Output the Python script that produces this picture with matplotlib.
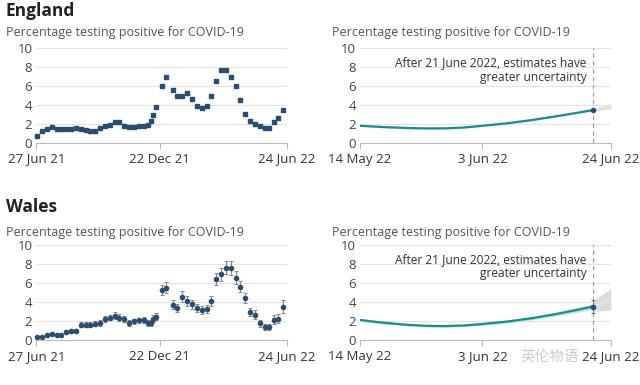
import numpy as np
import pandas as pd
import matplotlib
matplotlib.use('Agg')
import matplotlib.pyplot as plt
import matplotlib.dates as mdates

plt.rcParams['font.family'] = ['Open Sans', 'DejaVu Sans']

##################################################
# data
##################################################

week_dates = ['2021-06-28', '2021-07-05', '2021-07-12', '2021-07-19', '2021-07-26',
              '2021-08-02', '2021-08-09', '2021-08-16', '2021-08-23', '2021-08-30',
              '2021-09-06', '2021-09-13', '2021-09-20', '2021-09-27', '2021-10-04',
              '2021-10-11', '2021-10-18', '2021-10-25', '2021-11-01', '2021-11-08',
              '2021-11-15', '2021-11-22', '2021-11-29', '2021-12-06', '2021-12-10',
              '2021-12-13', '2021-12-17', '2021-12-25', '2022-01-01', '2022-01-10',
              '2022-01-17', '2022-01-24', '2022-01-31', '2022-02-07', '2022-02-14',
              '2022-02-21', '2022-02-28', '2022-03-07', '2022-03-14', '2022-03-21',
              '2022-03-28', '2022-04-04', '2022-04-11', '2022-04-18', '2022-04-25',
              '2022-05-02', '2022-05-09', '2022-05-16', '2022-05-24', '2022-05-29',
              '2022-06-06', '2022-06-12', '2022-06-19']

england_weekly = [0.75, 1.2, 1.5, 1.7, 1.45, 1.45, 1.45, 1.5, 1.55, 1.5,
                  1.4, 1.3, 1.3, 1.55, 1.8, 1.9, 2.15, 2.15, 1.8, 1.65,
                  1.7, 1.8, 1.8, 1.85, 2.3, 2.9, 3.8, 6.05, 6.9, 5.6,
                  4.9, 4.9, 5.3, 4.6, 3.9, 3.65, 3.85, 4.95, 6.5, 7.65,
                  7.65, 7.0, 6.0, 4.5, 3.0, 2.35, 2.0, 1.75, 1.55, 1.55,
                  2.15, 2.65, 3.45]

wales_weekly = [0.35, 0.3, 0.5, 0.65, 0.5, 0.5, 0.85, 0.9, 0.95, 1.6,
                1.6, 1.6, 1.7, 1.8, 2.2, 2.35, 2.55, 2.35, 2.2, 1.8,
                1.95, 2.05, 2.1, 1.8, 1.8, 2.25, 2.45, 5.25, 5.5, 3.7,
                3.35, 4.55, 4.1, 3.75, 3.35, 3.15, 3.25, 4.1, 6.4, 6.9,
                7.6, 7.6, 6.55, 5.6, 4.4, 2.95, 2.65, 1.75, 1.35, 1.35,
                2.15, 2.25, 3.5]

wales_err = [0.1, 0.1, 0.12, 0.12, 0.12, 0.12, 0.15, 0.15, 0.15, 0.25,
             0.25, 0.25, 0.25, 0.3, 0.3, 0.3, 0.35, 0.35, 0.35, 0.3,
             0.3, 0.3, 0.3, 0.3, 0.3, 0.35, 0.35, 0.55, 0.6, 0.45,
             0.45, 0.55, 0.5, 0.45, 0.45, 0.45, 0.45, 0.5, 0.65, 0.65,
             0.7, 0.75, 0.7, 0.6, 0.55, 0.45, 0.45, 0.35, 0.3, 0.3,
             0.45, 0.5, 0.7]

model_dates = ['2022-05-14', '2022-05-18', '2022-05-22', '2022-05-25', '2022-05-28',
               '2022-05-31', '2022-06-03', '2022-06-07', '2022-06-11', '2022-06-15',
               '2022-06-18', '2022-06-21']
england_model = [1.8, 1.66, 1.56, 1.52, 1.53, 1.62, 1.8, 2.06, 2.4, 2.8, 3.12, 3.45]
england_lo = [1.73, 1.6, 1.5, 1.46, 1.47, 1.56, 1.74, 1.99, 2.33, 2.72, 3.02, 3.33]
england_hi = [1.87, 1.72, 1.62, 1.58, 1.59, 1.68, 1.86, 2.13, 2.47, 2.88, 3.22, 3.57]

wales_model = [2.1, 1.8, 1.58, 1.48, 1.46, 1.52, 1.68, 1.93, 2.28, 2.72, 3.1, 3.5]
wales_lo = [1.95, 1.67, 1.46, 1.36, 1.34, 1.4, 1.55, 1.78, 2.11, 2.52, 2.86, 3.22]
wales_hi = [2.25, 1.93, 1.7, 1.6, 1.58, 1.64, 1.81, 2.08, 2.45, 2.92, 3.34, 3.78]

ext_dates = ['2022-06-21', '2022-06-24']
england_ext = [3.45, 3.9]
england_ext_lo = [3.3, 3.65]
england_ext_hi = [3.6, 4.15]
wales_ext = [3.5, 4.2]
wales_ext_lo = [3.0, 3.15]
wales_ext_hi = [4.1, 5.4]

wales_last_err = 0.7

week_dates = pd.to_datetime(week_dates)
model_dates = pd.to_datetime(model_dates)
ext_dates = pd.to_datetime(ext_dates)

left_ticks = pd.to_datetime(['2021-06-27', '2021-12-22', '2022-06-24'])
right_ticks = pd.to_datetime(['2022-05-14', '2022-06-03', '2022-06-24'])
left_labels = ['27 Jun 21', '22 Dec 21', '24 Jun 22']
right_labels = ['14 May 22', '3 Jun 22', '24 Jun 22']

navy = '#2a4d70'
teal = '#1d8c8c'
grey_txt = '#555555'

##################################################
# figure
##################################################

fig = plt.figure(figsize=(6.4, 3.85), dpi=100)

def style(ax, ticks, labels):
    ax.set_ylim(0, 10)
    ax.set_xlim(ticks[0], ticks[-1])
    ax.set_yticks([0, 2, 4, 6, 8, 10])
    ax.set_xticks(ticks)
    ax.set_xticklabels(labels)
    ax.grid(axis='y', color='#e3e3e3', lw=0.8)
    ax.set_axisbelow(True)
    for s in ['top', 'right', 'left']:
        ax.spines[s].set_visible(False)
    ax.spines['bottom'].set_color('#bbbbbb')
    ax.tick_params(axis='y', length=0, labelsize=9.5, colors='#444444', pad=3)
    ax.tick_params(axis='x', length=4, color='#bbbbbb', labelsize=9.5, colors='#333333', pad=3)

axes = {}
axes['el'] = fig.add_axes([0.057, 0.629, 0.391, 0.246])
axes['er'] = fig.add_axes([0.5625, 0.629, 0.392, 0.246])
axes['wl'] = fig.add_axes([0.057, 0.117, 0.391, 0.247])
axes['wr'] = fig.add_axes([0.5625, 0.117, 0.392, 0.247])

# England weekly
ax = axes['el']
style(ax, left_ticks, left_labels)
ax.plot(week_dates, england_weekly, 's', color=navy, ms=2.9, clip_on=False)

# Wales weekly
ax = axes['wl']
style(ax, left_ticks, left_labels)
ax.errorbar(week_dates, wales_weekly, yerr=wales_err, fmt='o', color=navy, ms=3.0,
            ecolor='#8a8a8a', elinewidth=0.8, capsize=1.6, capthick=0.8, clip_on=False)

# modelled estimates
for key, m, lo, hi, ext, elo, ehi in [('er', england_model, england_lo, england_hi,
                                       england_ext, england_ext_lo, england_ext_hi),
                                      ('wr', wales_model, wales_lo, wales_hi,
                                       wales_ext, wales_ext_lo, wales_ext_hi)]:
    ax = axes[key]
    style(ax, right_ticks, right_labels)
    ax.fill_between(ext_dates, elo, ehi, color='#dcdcdc', lw=0)
    ax.plot(ext_dates, ext, color='#e8e8e8', lw=1.2)
    ax.fill_between(model_dates, lo, hi, color='#b5e6e6', lw=0)
    ax.plot(model_dates, m, color=teal, lw=1.6, solid_capstyle='round')
    ax.axvline(pd.Timestamp('2022-06-21'), color='#999999', lw=0.8, ls=(0, (4, 3)))
    if key == 'wr':
        ax.errorbar([model_dates[-1]], [m[-1]], yerr=wales_last_err, fmt='o', color=navy,
                    ms=3.0, ecolor='#777777', elinewidth=0.8, capsize=1.6, capthick=0.8)
    else:
        ax.plot([model_dates[-1]], [m[-1]], 'o', color=navy, ms=3.0)
    ax.text(pd.Timestamp('2022-06-20'), 9.15, 'After 21 June 2022, estimates have\ngreater uncertainty',
            ha='right', va='top', fontsize=8.6, color='#333333', linespacing=1.15)

# titles
fig.text(0.009, 0.995, 'England', fontsize=12.5, fontweight='bold', color='#222222', va='top')
fig.text(0.009, 0.487, 'Wales', fontsize=12.5, fontweight='bold', color='#222222', va='top')
for x, y in [(0.009, 0.915), (0.518, 0.915), (0.009, 0.397), (0.518, 0.397)]:
    fig.text(x, y, 'Percentage testing positive for COVID-19', fontsize=9,
             color=grey_txt, va='center')

# watermark
fig.text(0.905, 0.072, '英伦物语', fontsize=10.5, color='#c8c8c8', va='center', ha='right',
         family=['Noto Sans CJK SC', 'DejaVu Sans'], alpha=0.9)

fig.savefig('out.png', dpi=100)
